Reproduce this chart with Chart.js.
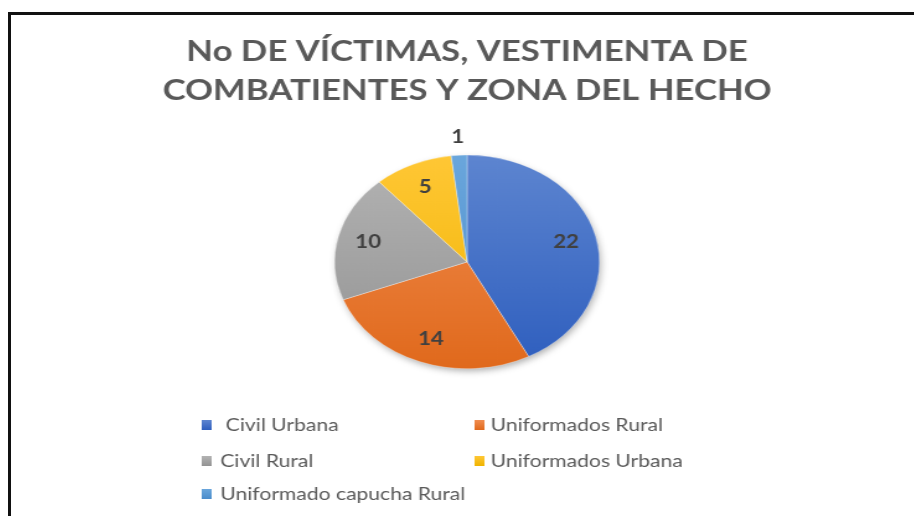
<!DOCTYPE html>
<html>
<head>
<meta charset="utf-8">
<script src="https://cdn.jsdelivr.net/npm/chart.js@4/dist/chart.umd.min.js"></script>
<style>
  html, body { margin:0; padding:0; background:#fff; width:914px; height:516px; overflow:hidden; }
  #frame { position:absolute; left:8px; top:12px; width:1000px; height:600px;
           border-left:3px solid #111; border-top:3px solid #111; }
  #wrap { position:absolute; left:12px; top:15px; width:734px; height:501px;
          transform:scaleX(1.24); transform-origin:0 0; }
</style>
</head>
<body>
<div id="frame"></div>
<div id="wrap"><canvas id="c"></canvas></div>
<script>
const categories = [' Civil Urbana', 'Uniformados Rural', 'Civil Rural', 'Uniformados Urbana', 'Uniformado capucha Rural'];
const victims = [22, 14, 10, 5, 1];
const titleLines = ['No DE VÍCTIMAS, VESTIMENTA DE', 'COMBATIENTES Y ZONA DEL HECHO'];
const baseColors = ['#4472C4', '#ED7D31', '#A5A5A5', '#FFC000', '#5B9BD5'];
const topColors = ['#5D85D0', '#F18D50', '#B3B3B3', '#FFC735', '#6AA6DC'];
const bottomColors = ['#2E5EBE', '#E0691C', '#939393', '#F0B400', '#4A8CCB'];

const shadowPlugin = {
  id: 'pieShadow',
  beforeDatasetsDraw(chart) {
    const arc = chart.getDatasetMeta(0).data[0];
    if (!arc) return;
    const p = arc.getProps(['x', 'y', 'outerRadius'], true);
    const ctx = chart.ctx;
    ctx.save();
    ctx.shadowColor = 'rgba(0,0,0,0.35)';
    ctx.shadowBlur = 7;
    ctx.shadowOffsetX = 1.5;
    ctx.shadowOffsetY = 3;
    ctx.beginPath();
    ctx.arc(p.x, p.y, p.outerRadius - 1, 0, Math.PI * 2);
    ctx.fillStyle = '#ffffff';
    ctx.fill();
    ctx.restore();
  }
};

const labelPlugin = {
  id: 'sliceLabels',
  afterDatasetsDraw(chart) {
    const ctx = chart.ctx;
    const ds = chart.data.datasets[0];
    ctx.save();
    ctx.font = 'bold 18px Lato';
    ctx.fillStyle = '#404040';
    ctx.textAlign = 'center';
    ctx.textBaseline = 'middle';
    chart.getDatasetMeta(0).data.forEach((arc, i) => {
      const p = arc.getProps(['x', 'y', 'startAngle', 'endAngle', 'outerRadius'], true);
      const mid = (p.startAngle + p.endAngle) / 2;
      const span = p.endAngle - p.startAngle;
      const f = span < 0.25 ? 1.17 : 0.77;
      ctx.fillText(String(ds.data[i]), p.x + Math.cos(mid) * p.outerRadius * f, p.y + Math.sin(mid) * p.outerRadius * f);
    });
    ctx.restore();
  }
};

const legendPlugin = {
  id: 'gridLegend',
  afterDraw(chart) {
    const ctx = chart.ctx;
    const colBox = [153, 373];
    const colText = [168, 386];
    const rowY = [410, 446, 479];
    ctx.save();
    ctx.font = '17px Lato';
    ctx.textBaseline = 'middle';
    ctx.textAlign = 'left';
    chart.data.labels.forEach((lab, i) => {
      const r = Math.floor(i / 2), c = i % 2;
      const g = ctx.createLinearGradient(0, rowY[r] - 5, 0, rowY[r] + 5);
      g.addColorStop(0, topColors[i]);
      g.addColorStop(1, bottomColors[i]);
      ctx.fillStyle = g;
      ctx.fillRect(colBox[c], rowY[r] - 5, 8, 10);
      ctx.fillStyle = '#595959';
      ctx.fillText(lab, colText[c], rowY[r] + 1);
    });
    ctx.restore();
  }
};

new Chart(document.getElementById('c'), {
  type: 'pie',
  data: {
    labels: categories,
    datasets: [{
      data: victims,
      backgroundColor: (c) => {
        const i = c.dataIndex;
        const area = c.chart.chartArea;
        if (!area) return baseColors[i];
        const g = c.chart.ctx.createLinearGradient(0, area.top, 0, area.bottom);
        g.addColorStop(0, topColors[i]);
        g.addColorStop(1, bottomColors[i]);
        return g;
      },
      borderColor: 'rgba(255,255,255,0.6)',
      borderWidth: 0.5
    }]
  },
  options: {
    responsive: true,
    maintainAspectRatio: false,
    animation: false,
    events: [],
    layout: { padding: { top: 0, bottom: 147, left: 0, right: 0 } },
    plugins: {
      legend: { display: false },
      tooltip: { enabled: false },
      title: {
        display: true,
        text: titleLines,
        color: '#595959',
        font: { family: 'Lato', size: 28, weight: 'bold', lineHeight: 1.39 },
        padding: { top: 18, bottom: 44 }
      }
    }
  },
  plugins: [shadowPlugin, labelPlugin, legendPlugin]
});
</script>
</body>
</html>
